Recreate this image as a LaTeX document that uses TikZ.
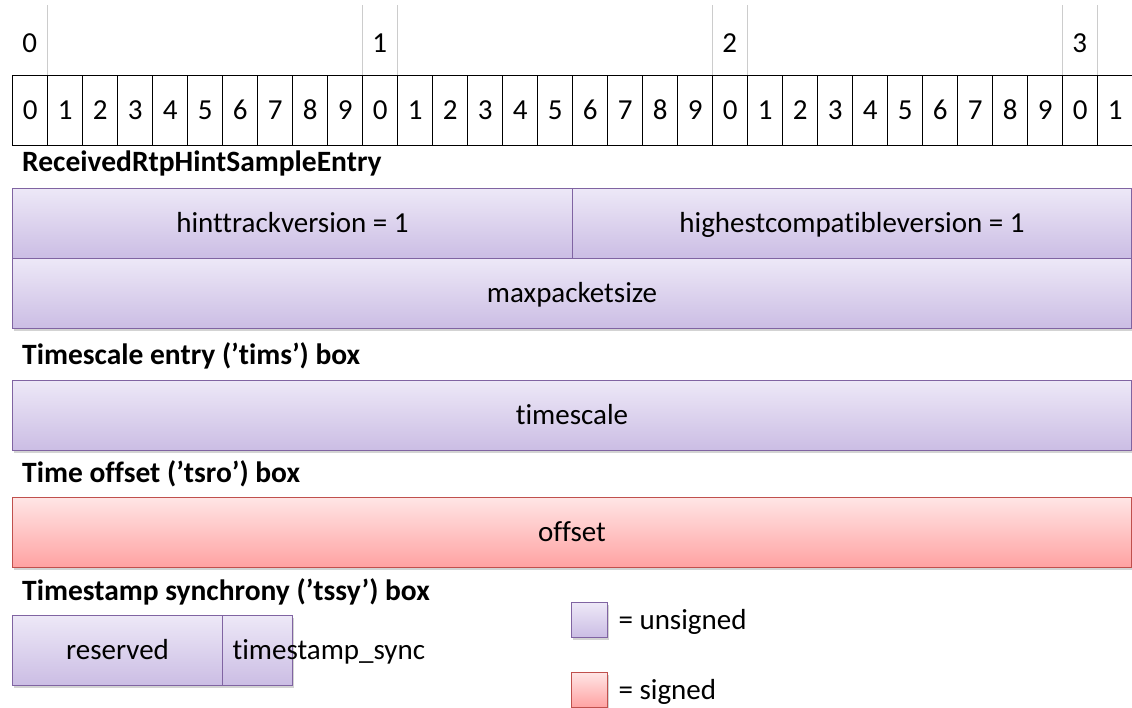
\documentclass[tikz,border=0pt]{standalone}
\usepackage{fontspec}
\setmainfont{Carlito}[Ligatures=NoCommon]
\usetikzlibrary{positioning,shadows}
\definecolor{uline}{RGB}{128,100,162}
\definecolor{utop}{RGB}{237,232,247}
\definecolor{ubot}{RGB}{203,189,228}
\definecolor{sline}{RGB}{192,80,77}
\definecolor{redtop}{RGB}{255,229,229}
\definecolor{redbot}{RGB}{255,162,162}
\newcommand\fieldfont{\fontsize{29}{34}\selectfont}

\begin{document}
\begin{tikzpicture}[x=1pt,y=-1pt,font=\fieldfont,text height=22pt,text depth=4pt,
  bitcell/.style={draw,line width=1.2pt,minimum width=35pt,minimum height=70pt,inner sep=0,anchor=north west},
  headcell/.style={minimum width=35pt,minimum height=70pt,inner sep=0,anchor=north west,text height=24pt,text depth=0pt},
  field/.style={line width=1pt,minimum height=70pt,anchor=north west,
    drop shadow={shadow xshift=1.5pt,shadow yshift=-2.5pt,opacity=0.35}},
  ufield/.style={field,draw=uline,top color=utop,bottom color=ubot},
  sfield/.style={field,draw=sline,top color=redtop,bottom color=redbot},
  boxtitle/.style={anchor=base west,inner sep=0,font=\fontsize{29.5}{34}\selectfont\bfseries}]
\useasboundingbox (0,0) rectangle (1132,707);
% bit ruler
\foreach \t in {0,...,3}{
  \node[headcell] (h\t) at (12+350*\t,5) {\t};
  \draw[black!20] (h\t.north east)--(h\t.south east);
  \ifnum\t>0 \draw[black!20] (h\t.north west)--(h\t.south west);\fi}
\foreach \i in {0,...,31}{
  \pgfmathtruncatemacro\d{mod(\i,10)}
  \node[bitcell] (b\i) at (12+35*\i,75) {\d};}
% ReceivedRtpHintSampleEntry
\node[boxtitle] (t1) at (22,171) {ReceivedRtpHintSampleEntry};
\node[ufield,minimum width=560pt] (htv) at (12,188) {hinttrackversion = 1};
\node[ufield,minimum width=559pt] (hcv) at (572,188) {highestcompatibleversion = 1};
\node[ufield,minimum width=1119pt] (mps) at (12,258) {maxpacketsize};
% tims
\node[boxtitle] (t2) at (22,364) {Timescale entry (’tims’) box};
\node[ufield,minimum width=1119pt] (tsc) at (12,380) {timescale};
% tsro
\node[boxtitle] (t3) at (22,482) {Time offset (’tsro’) box};
\node[sfield,minimum width=1119pt] (ofs) at (12,497) {offset};
% tssy
\node[boxtitle] (t4) at (22,600) {Timestamp synchrony (’tssy’) box};
\node[ufield,minimum width=210pt] (rsv) at (12,615) {reserved};
\node[ufield,minimum width=70pt] (sync) at (222,615) {};
\node[anchor=west,xshift=7pt] (synctxt) at (sync.west) {timestamp\_sync};
% key
\node[ufield,minimum width=36pt,minimum height=35pt] (ukey) at (571,602) {};
\node[right=7pt of ukey] (utxt) {= unsigned};
\node[sfield,minimum width=36pt,minimum height=35pt] (skey) at (571,672) {};
\node[right=7pt of skey] (stxt) {= signed};
\end{tikzpicture}
\end{document}
